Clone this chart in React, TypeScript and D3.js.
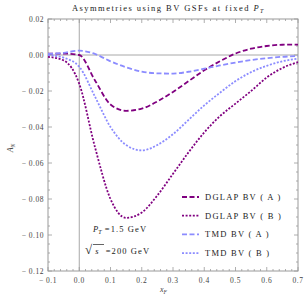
import React, { useEffect, useRef } from 'react';
import * as d3 from 'd3';

const xF = [-0.1, -0.05, 0, 0.05, 0.1, 0.15, 0.2, 0.25, 0.3, 0.35, 0.4, 0.45, 0.5, 0.55, 0.6, 0.65, 0.7];
const dglapA = [0.0008, 0.0008, 0.0, -0.014, -0.0275, -0.031, -0.0298, -0.0258, -0.0205, -0.0145, -0.0085, -0.0035, 0.0008, 0.0035, 0.005, 0.0057, 0.0058];
const dglapB = [-0.001, -0.003, -0.016, -0.051, -0.08, -0.0905, -0.0875, -0.078, -0.066, -0.054, -0.043, -0.034, -0.027, -0.02, -0.0125, -0.0072, -0.004];
const tmdA = [0.0006, 0.0012, 0.0024, 0.0006, -0.0035, -0.0068, -0.0092, -0.0102, -0.0103, -0.0093, -0.0076, -0.0058, -0.0042, -0.0028, -0.0018, -0.001, -0.0006];
const tmdB = [0.0, -0.0015, -0.0065, -0.023, -0.04, -0.05, -0.053, -0.05, -0.044, -0.036, -0.028, -0.021, -0.0145, -0.0095, -0.006, -0.0035, -0.002];

const seriesNames = ['DGLAP BV ( A )', 'DGLAP BV ( B )', 'TMD BV ( A )', 'TMD BV ( B )'];
const seriesValues = [dglapA, dglapB, tmdA, tmdB];
const seriesColors = ['#800080', '#800080', '#8c8cff', '#8c8cff'];
const seriesDash = ['5,2.5', '2,1.6', '5,2.5', '2,1.6'];

const xTicks = [-0.1, 0, 0.1, 0.2, 0.3, 0.4, 0.5, 0.6, 0.7];
const yTicks = [0.02, 0, -0.02, -0.04, -0.06, -0.08, -0.1, -0.12];

const fmt = (v: number, digits: number) => {
  const s = Math.abs(v).toFixed(digits);
  return v < -1e-9 ? `\u2212 ${s}` : s;
};

const App: React.FC = () => {
  const svgRef = useRef<SVGSVGElement | null>(null);

  useEffect(() => {
    if (!svgRef.current) return;
    const width = 307;
    const height = 304;
    const margin = { top: 19, right: 9, bottom: 33, left: 48 };
    const serif = "'Liberation Serif', 'DejaVu Serif', serif";

    const x = d3.scaleLinear().domain([-0.1, 0.7]).range([margin.left, width - margin.right]);
    const y = d3.scaleLinear().domain([-0.12, 0.02]).range([height - margin.bottom, margin.top]);

    const svg = d3.select(svgRef.current);
    svg.selectAll('*').remove();

    const x0 = margin.left;
    const x1 = width - margin.right;
    const y0 = height - margin.bottom;
    const y1 = margin.top;
    const frameColor = '#9a9a9a';

    // origin lines
    svg.append('line').attr('x1', x(0)).attr('x2', x(0)).attr('y1', y0).attr('y2', y1)
      .attr('stroke', '#a8a8a8').attr('stroke-width', 1);
    svg.append('line').attr('x1', x0).attr('x2', x1).attr('y1', y(0)).attr('y2', y(0))
      .attr('stroke', '#a8a8a8').attr('stroke-width', 1);

    // frame
    svg.append('rect').attr('x', x0).attr('y', y1).attr('width', x1 - x0).attr('height', y0 - y1)
      .attr('fill', 'none').attr('stroke', frameColor).attr('stroke-width', 1);

    // ticks on all sides (Mathematica frame style)
    const ticks = svg.append('g').attr('stroke', frameColor).attr('stroke-width', 0.8);
    const xMinor = d3.range(-0.1, 0.7001, 0.02);
    xMinor.forEach((v) => {
      const major = xTicks.some((t) => Math.abs(t - v) < 1e-6);
      const len = major ? 4 : 2;
      ticks.append('line').attr('x1', x(v)).attr('x2', x(v)).attr('y1', y0).attr('y2', y0 - len);
      ticks.append('line').attr('x1', x(v)).attr('x2', x(v)).attr('y1', y1).attr('y2', y1 + len);
    });
    const yMinor = d3.range(-0.12, 0.0201, 0.005);
    yMinor.forEach((v) => {
      const major = yTicks.some((t) => Math.abs(t - v) < 1e-6);
      const len = major ? 4 : 2;
      ticks.append('line').attr('x1', x0).attr('x2', x0 + len).attr('y1', y(v)).attr('y2', y(v));
      ticks.append('line').attr('x1', x1).attr('x2', x1 - len).attr('y1', y(v)).attr('y2', y(v));
    });

    // tick labels
    svg.append('g').selectAll('text').data(xTicks).enter().append('text')
      .attr('x', (d) => x(d)).attr('y', y0 + 12)
      .attr('text-anchor', 'middle').attr('font-family', serif).attr('font-size', 7.5)
      .attr('letter-spacing', 0.5)
      .attr('fill', '#444').text((d) => fmt(d, 1));
    svg.append('g').selectAll('text').data(yTicks).enter().append('text')
      .attr('x', x0 - 4).attr('y', (d) => y(d) + 2.6)
      .attr('text-anchor', 'end').attr('font-family', serif).attr('font-size', 7.5)
      .attr('letter-spacing', 0.5)
      .attr('fill', '#444').text((d) => fmt(d, 2));

    // curves
    const line = d3.line<[number, number]>()
      .x((d) => x(d[0]))
      .y((d) => y(d[1]))
      .curve(d3.curveMonotoneX);
    seriesValues.forEach((vals, i) => {
      const pts = xF.map((v, j) => [v, vals[j]] as [number, number]);
      svg.append('path').datum(pts).attr('d', line)
        .attr('fill', 'none').attr('stroke', seriesColors[i]).attr('stroke-width', 1.8)
        .attr('stroke-dasharray', seriesDash[i]);
    });

    // legend
    const legend = svg.append('g');
    seriesNames.forEach((name, i) => {
      const ly = 197 + i * 18.7;
      legend.append('line').attr('x1', 182).attr('x2', 199).attr('y1', ly).attr('y2', ly)
        .attr('stroke', seriesColors[i]).attr('stroke-width', 1.8).attr('stroke-dasharray', seriesDash[i]);
      legend.append('text').attr('x', 205).attr('y', ly + 3)
        .attr('font-family', serif).attr('font-size', 8.5).attr('letter-spacing', 1.25)
        .attr('fill', '#222').text(name);
    });

    // annotations
    const pt = svg.append('text').attr('x', 93).attr('y', 232)
      .attr('font-family', serif).attr('font-size', 8.5).attr('fill', '#222');
    pt.append('tspan').attr('font-style', 'italic').text('P');
    pt.append('tspan').attr('font-style', 'italic').attr('font-size', 6).attr('dy', 2).text('T');
    pt.append('tspan').attr('dy', -2).attr('letter-spacing', 1.1).text(' =1.5 GeV');

    const rs = svg.append('text').attr('x', 85).attr('y', 254)
      .attr('font-family', serif).attr('font-size', 8.5).attr('fill', '#222');
    rs.append('tspan').attr('font-size', 13).text('\u221A');
    rs.append('tspan').attr('font-style', 'italic').attr('dx', 3).text('s');
    rs.append('tspan').attr('dx', 4).attr('letter-spacing', 1.1).text(' =200 GeV');
    svg.append('line').attr('x1', 93).attr('x2', 104).attr('y1', 244.5).attr('y2', 244.5)
      .attr('stroke', '#222').attr('stroke-width', 0.7);

    // axis labels
    const xl = svg.append('text').attr('x', 160).attr('y', 292)
      .attr('font-family', serif).attr('font-size', 8).attr('font-style', 'italic')
      .attr('fill', '#444');
    xl.append('tspan').text('x');
    xl.append('tspan').attr('font-size', 5.5).attr('dy', 2).text('F');

    const yl = svg.append('text').attr('transform', 'translate(13,148) rotate(-90)')
      .attr('text-anchor', 'middle')
      .attr('font-family', serif).attr('font-size', 8).attr('font-style', 'italic')
      .attr('fill', '#444');
    yl.append('tspan').text('A');
    yl.append('tspan').attr('font-size', 5.5).attr('dy', 2).text('N');

    // title
    const title = svg.append('text').attr('x', 72).attr('y', 11)
      .attr('font-family', serif).attr('font-size', 8.5).attr('letter-spacing', 1.45)
      .attr('fill', '#222');
    title.append('tspan').text('Asymmetries using BV  GSFs at fixed ');
    title.append('tspan').attr('font-style', 'italic').text('P');
    title.append('tspan').attr('font-style', 'italic').attr('font-size', 6).attr('dy', 2).text('T');
  }, []);

  return (
    <svg
      ref={svgRef}
      width={307}
      height={304}
      style={{ position: 'absolute', left: 0, top: 0, background: '#fff' }}
    />
  );
};

export default App;
